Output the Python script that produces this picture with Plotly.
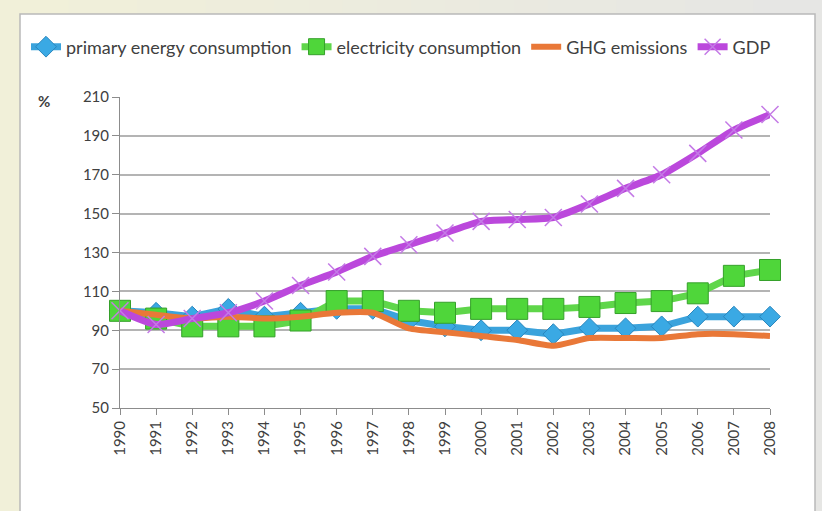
import plotly.graph_objects as go

years = list(range(1990, 2009))
primary_energy = [100, 99, 97, 101, 97, 99, 101, 101, 95, 92, 90, 90, 88, 91, 91, 92, 97, 97, 97]
electricity = [100, 96, 92, 92, 92, 95, 105, 105, 100, 99, 101, 101, 101, 102, 104, 105, 109, 118, 121]
ghg = [100, 98, 96, 97, 96, 97, 99, 99, 91, 89, 87, 85, 82, 86, 86, 86, 88, 88, 87]
gdp = [100, 93, 96, 99, 105, 113, 120, 128, 134, 140, 146, 147, 148, 155, 163, 170, 181, 193, 201]
y_ticks = [50, 70, 90, 110, 130, 150, 170, 190, 210]

W, H = 822, 511
FONT = "Lato"
L, R, T, B = 120, 52, 97, 103
PW, PH = W - L - R, H - T - B

def px_x(x):
    return (x - L) / PW

def px_y(y):
    return (H - B - y) / PH

fig = go.Figure()

fig.add_trace(go.Scatter(
    x=years, y=primary_energy, name="primary energy consumption",
    mode="lines+markers", cliponaxis=False,
    line=dict(color="#3ba3dc", width=7),
    marker=dict(symbol="diamond", size=16, color="#3aa9e4",
                line=dict(color="#2a86bd", width=1)),
))
fig.add_trace(go.Scatter(
    x=years, y=electricity, name="electricity consumption",
    mode="lines+markers", cliponaxis=False,
    line=dict(color="#5fd64a", width=7),
    marker=dict(symbol="square", size=21, color="#4fd63a",
                line=dict(color="#35a02a", width=1)),
))
fig.add_trace(go.Scatter(
    x=years, y=ghg, name="GHG emissions",
    mode="lines", cliponaxis=False,
    line=dict(color="#e97838", width=6, shape="spline", smoothing=0.6),
))
fig.add_trace(go.Scatter(
    x=years, y=gdp, name="GDP",
    mode="lines+markers", cliponaxis=False,
    line=dict(color="#bb48dc", width=7, shape="spline", smoothing=0.6),
    marker=dict(symbol="x-thin", size=17, color="#c47ae6",
                line=dict(color="#c47ae6", width=1.5)),
))

shapes = []
n = 24
c0 = (0xf1, 0xf0, 0xd9)
c1 = (0xe6, 0xe6, 0xe4)
for i in range(n):
    t = i / (n - 1)
    col = "rgb(%d,%d,%d)" % tuple(round(a + (b - a) * t) for a, b in zip(c0, c1))
    shapes.append(dict(type="rect", xref="paper", yref="paper", layer="below",
                       x0=px_x(i * W / n), x1=px_x((i + 1) * W / n + 1),
                       y0=px_y(H + 2), y1=px_y(-2),
                       fillcolor=col, line=dict(width=0)))
shapes.append(dict(type="rect", xref="paper", yref="paper", layer="below",
                   x0=px_x(20), x1=px_x(815), y0=px_y(H + 20), y1=px_y(14),
                   fillcolor="white", line=dict(color="#b9b9b9", width=1.5)))

fig.update_layout(
    width=W, height=H,
    margin=dict(l=L, r=R, t=T, b=B),
    paper_bgcolor="#e8e8e4",
    plot_bgcolor="rgba(0,0,0,0)",
    font=dict(family=FONT, size=15, color="#404040"),
    shapes=shapes,
    showlegend=True,
    legend=dict(orientation="h", xref="paper", yref="paper",
                x=px_x(26), xanchor="left", y=px_y(47), yanchor="middle",
                font=dict(family=FONT, size=18, color="#404040"),
                bgcolor="rgba(0,0,0,0)", itemwidth=30, tracegroupgap=0),
    annotations=[dict(text="<b>%</b>", xref="paper", yref="paper",
                      x=px_x(44), y=px_y(101),
                      xanchor="center", yanchor="middle", showarrow=False,
                      font=dict(family=FONT, size=15, color="#404040"))],
)

fig.update_xaxes(
    range=[1990, 2008], tickmode="array", tickvals=years,
    ticktext=[str(y) for y in years], tickangle=-90,
    showgrid=False, zeroline=False,
    showline=True, linecolor="#8c8c8c", linewidth=1,
    ticks="outside", ticklen=6, tickcolor="#8c8c8c",
    tickfont=dict(family=FONT, size=15, color="#404040"),
)
fig.update_yaxes(
    range=[50, 210], tickmode="array", tickvals=y_ticks,
    showgrid=True, gridcolor="#b4b4b4", gridwidth=1.5, zeroline=False,
    showline=True, linecolor="#8c8c8c", linewidth=1,
    ticks="outside", ticklen=7, tickcolor="#8c8c8c",
    tickfont=dict(family=FONT, size=15, color="#404040"),
)

fig.write_html(
    "out.html",
    config={"displayModeBar": False},
    post_script="document.documentElement.style.margin='0';document.body.style.margin='0';"
                "document.body.style.overflow='hidden';",
)
